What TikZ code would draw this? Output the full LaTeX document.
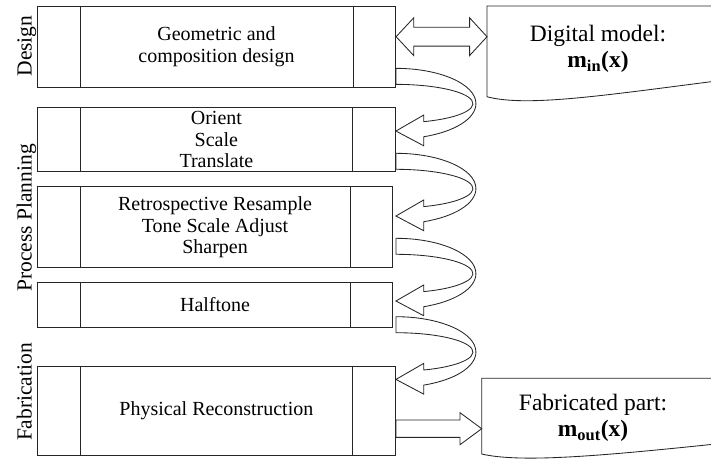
\documentclass[tikz,border=0pt]{standalone}
\usepackage{fontspec}
\setmainfont{Liberation Serif}
\usetikzlibrary{calc}

% curved block arrow that leaves a stage on the right and comes back into the next one
% #1 = upper corner of the tail
\newcommand\loopback[1]{%
  \draw[outline] (#1)
    arc[start angle=90, end angle=-69.7, x radius=80pt, y radius=35.3pt]
    -- ++(0,9)
    -- ($(#1)+(0,62.7)$)
    -- ($(#1)+(27.76,46.7)$)
    -- ($(#1)+(27.76,53.3)$)
    arc[start angle=-68.87, end angle=90, x radius=77pt, y radius=19.3pt]
    -- cycle;}

\begin{document}
\begin{tikzpicture}[x=1pt, y=-1pt, line join=miter,
  outline/.style={draw=black!85, line width=0.85pt},
  stage/.style={outline, inner sep=0pt, align=center,
    font=\fontsize{20}{21.7}\selectfont},
  side/.style={rotate=90, anchor=base, inner sep=0pt,
    font=\fontsize{21.5}{24}\selectfont},
  doctext/.style={align=center, inner sep=0pt,
    font=\fontsize{23.5}{26}\selectfont},
]
\useasboundingbox (0,0) rectangle (711,458);
\clip (0,0) rectangle (711,458);

% process stages
\node[stage, minimum width=358.4, minimum height=81.7] (b1) at (216.5,46.85)
  {Geometric and\\composition design};
\node[stage, minimum width=358.2, minimum height=64] (b2) at (216.4,139.7)
  {Orient\\Scale\\Translate};
\node[stage, minimum width=355.5, minimum height=81] (b3) at (215.05,227.2)
  {Retrospective Resample\\Tone Scale Adjust\\Sharpen};
\node[stage, minimum width=355.5, minimum height=45] (b4) at (215.05,304.8)
  {Halftone};
\node[stage, minimum width=358.2, minimum height=88.3] (b5) at (216.4,410.85)
  {Physical Reconstruction};

% side bars of every stage
\foreach \b in {b1,b2,b3,b4,b5}{
  \draw[outline] ($(\b.north west)+(43.4,0)$) -- ($(\b.south west)+(43.4,0)$);
  \draw[outline] ($(\b.north east)+(-43.2,0)$) -- ($(\b.south east)+(-43.2,0)$);
}

% phase labels
\node[side] (sd) at (31.5,46) {Design};
\node[side] (sp) at (31.5,218) {Process Planning};
\node[side] (sf) at (31.5,392) {Fabrication};

% document shapes
\coordinate (dmNW) at (487,6);
\coordinate (dmSW) at (487,96.7);
\draw[outline] (740,6) -- (dmNW) -- (dmSW)
  .. controls (525,107) and (600,96) .. (711,81.7) -- (740,77);
\node[doctext] (dm) at (598,49) {Digital model:\\\textbf{m\textsubscript{in}(x)}};

\coordinate (dfNW) at (481.7,378.3);
\coordinate (dfSW) at (481.7,454);
\draw[outline] (740,378.3) -- (dfNW) -- (dfSW)
  .. controls (520,463) and (600,456) .. (711,444.5) -- (740,440);
\node[doctext] (df) at (593,418) {Fabricated part:\\\textbf{m\textsubscript{out}(x)}};

% two-way arrow between design and digital model
\coordinate (a1) at ($(b1.east)+(0,-10.15)$);
\coordinate (a2) at (a1 -| dmNW);
\draw[outline] (a1) -- ++(17.6,-18.9) -- ++(0,9.5) -- ($(a2)+(-17.4,-9.4)$)
  -- ++(0,-9.5) -- (a2) -- ++(-17.4,18.9) -- ++(0,-9.5)
  -- ($(a1)+(17.6,9.4)$) -- ++(0,9.5) -- cycle;

% flow between stages
\coordinate (t1) at ($(b1.east)+(-0.2,21.5)$);
\coordinate (t2) at ($(b2.east)+(0,13.6)$);
\coordinate (t3) at ($(b3.east)+(2.7,11.1)$);
\coordinate (t4) at ($(b4.east)+(2.7,11.9)$);
\loopback{t1}
\loopback{t2}
\loopback{t3}
\loopback{t4}

% output arrow to the fabricated part
\coordinate (s1) at ($(b5.east)+(0,17.85)$);
\coordinate (s2) at (s1 -| dfNW);
\draw[outline] (s1) -- ++(0,-8.7) -- ($(s2)+(-21.7,-8.7)$) -- ++(0,-7.3)
  -- (s2) -- ++(-21.7,16) -- ++(0,-7.3) -- ($(s1)+(0,8.7)$) -- cycle;
\end{tikzpicture}
\end{document}
